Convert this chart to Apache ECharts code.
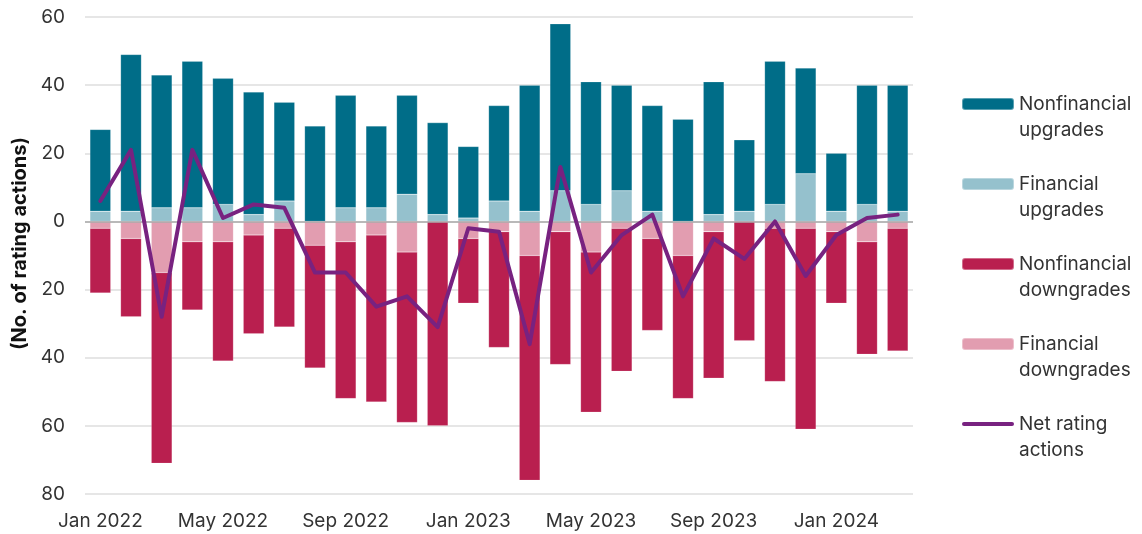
<!DOCTYPE html>
<html>
<head>
<meta charset="utf-8">
<script src="https://cdn.jsdelivr.net/npm/echarts@6/dist/echarts.min.js"></script>
<style>
html,body{margin:0;padding:0;background:#fff;}
#chart{width:1142px;height:534px;}
</style>
</head>
<body>
<div id="chart"></div>
<script>
const months = ['Jan','Feb','Mar','Apr','May','Jun','Jul','Aug','Sep','Oct','Nov','Dec'];
const categories = [];
for (let i = 0; i < 27; i++) {
  categories.push(months[i % 12] + ' ' + (2022 + Math.floor(i / 12)));
}
const nonfinUp   = [24,46,39,43,37,36,29,28,33,24,29,27,21,28,37,49,36,31,31,30,39,21,42,31,17,35,37];
const finUp      = [3,3,4,4,5,2,6,0,4,4,8,2,1,6,3,9,5,9,3,0,2,3,5,14,3,5,3];
const nonfinDown = [19,23,56,20,35,29,29,36,46,49,50,60,19,34,66,39,47,42,27,42,43,35,45,59,21,33,36];
const finDown    = [2,5,15,6,6,4,2,7,6,4,9,0,5,3,10,3,9,2,5,10,3,0,2,2,3,6,2];
const netActions = [6,21,-28,21,1,5,4,-15,-15,-25,-22,-31,-2,-3,-36,16,-15,-4,2,-22,-5,-11,0,-16,-4,1,2];
const yTicks = { min: -80, max: 60, interval: 20 };

const FONT = 'Inter';
const chart = echarts.init(document.getElementById('chart'), null, { renderer: 'canvas' });
const barCommon = { type: 'bar', stack: 'all', barCategoryGap: '32%', itemStyle: { borderColor: 'rgba(255,255,255,0.35)', borderWidth: 0.5 } };
const lineIcon = 'path://M2,0 H50 A2,2 0 0 1 50,4 H2 A2,2 0 0 1 2,0 Z';

chart.setOption({
  animation: false,
  textStyle: { fontFamily: FONT },
  grid: { left: 85, right: 229, top: 17, bottom: 40 },
  legend: {
    orient: 'vertical',
    left: 961,
    top: 65,
    padding: 0,
    itemWidth: 52,
    itemHeight: 12,
    itemGap: 2,
    formatter: n => '\n' + n,
    textStyle: { fontFamily: FONT, fontSize: 19, color: '#333', lineHeight: 26 },
    data: [
      'Nonfinancial\nupgrades', 'Financial\nupgrades', 'Nonfinancial\ndowngrades', 'Financial\ndowngrades',
      { name: 'Net rating\nactions', icon: lineIcon }
    ]
  },
  xAxis: {
    type: 'category',
    data: categories,
    axisLine: { show: false },
    axisTick: { show: false },
    axisLabel: { interval: 3, fontSize: 19, color: '#333', margin: 18, fontFamily: FONT }
  },
  yAxis: {
    type: 'value',
    min: yTicks.min, max: yTicks.max, interval: yTicks.interval,
    name: '(No. of rating actions)',
    nameLocation: 'middle',
    nameGap: 48,
    nameTextStyle: { fontSize: 20, fontWeight: 'bold', color: '#111', fontFamily: FONT, padding: [0, 0, 0, 24] },
    axisLine: { show: false },
    axisTick: { show: false },
    splitLine: { lineStyle: { color: '#dedede', width: 1.5 } },
    axisLabel: { fontSize: 19, color: '#333', margin: 20, fontFamily: FONT, formatter: v => String(Math.abs(v)) }
  },
  series: [
    Object.assign({}, barCommon, { name: 'Financial\nupgrades', data: finUp, itemStyle: Object.assign({}, barCommon.itemStyle, { color: '#95c1cd' }),
      markLine: { silent: true, symbol: 'none', label: { show: false }, lineStyle: { color: '#aaaaaa', type: 'solid', width: 1.5 }, data: [{ yAxis: 0 }] } }),
    Object.assign({}, barCommon, { name: 'Nonfinancial\nupgrades', data: nonfinUp, itemStyle: Object.assign({}, barCommon.itemStyle, { color: '#006d88' }) }),
    Object.assign({}, barCommon, { name: 'Financial\ndowngrades', data: finDown.map(v => -v), itemStyle: Object.assign({}, barCommon.itemStyle, { color: '#e29db0' }) }),
    Object.assign({}, barCommon, { name: 'Nonfinancial\ndowngrades', data: nonfinDown.map(v => -v), itemStyle: Object.assign({}, barCommon.itemStyle, { color: '#b91f4f' }) }),
    {
      name: 'Net rating\nactions', type: 'line', data: netActions, symbol: 'none', z: 5,
      lineStyle: { color: '#782280', width: 4, cap: 'round', join: 'round' },
      itemStyle: { color: '#782280' }
    }
  ]
});
</script>
</body>
</html>
